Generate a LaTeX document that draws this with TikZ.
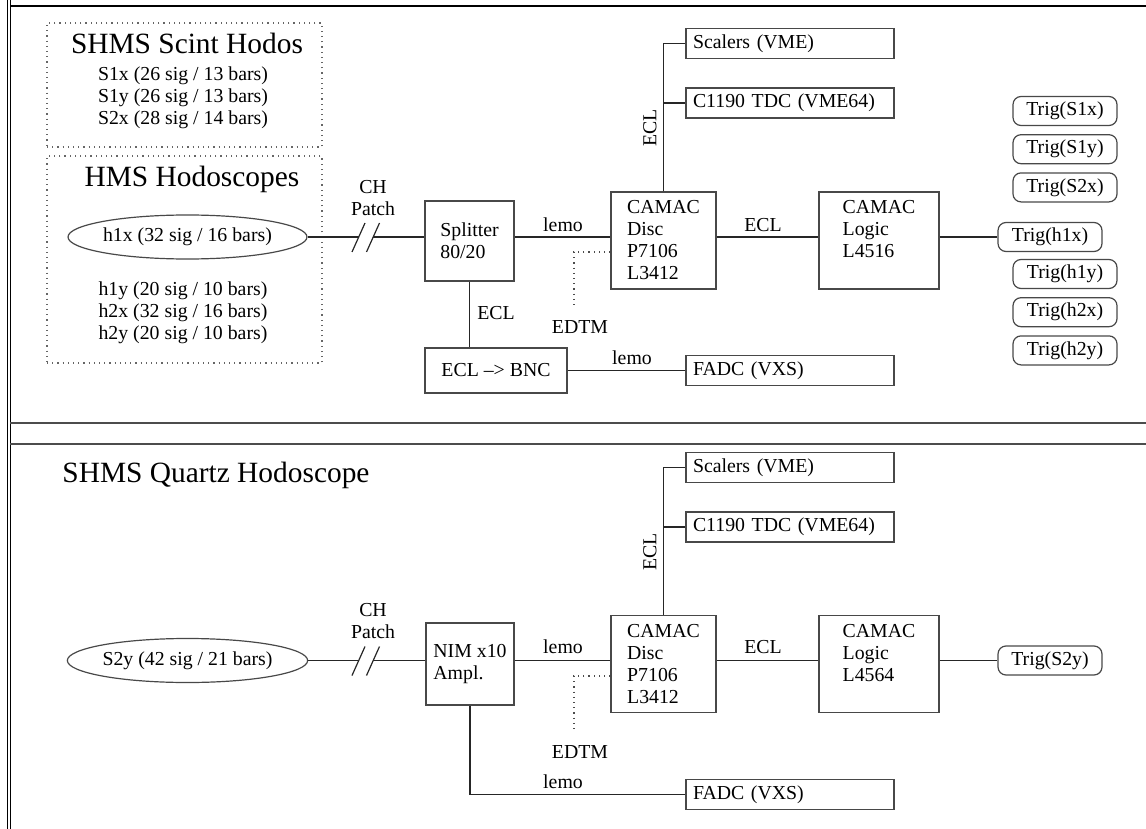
\documentclass[tikz,border=0pt]{standalone}
\usepackage{fontspec}
\setmainfont{Liberation Serif}
\usepackage{xcolor}
\usepackage{tikz}
\usetikzlibrary{positioning, shapes.geometric}
\definecolor{edge}{RGB}{72,72,72}
\tikzset{
  wire/.style={draw=black!85, line width=0.6pt},
  dots/.style={draw=black!70, dotted, line width=0.6pt},
  blk/.style={draw=edge, line width=0.6pt, align=left, inner sep=0pt},
  bus/.style={draw=edge, line width=0.6pt, align=left, text width=97pt, inner xsep=3.5pt,
    inner ysep=0pt, minimum height=15pt},
  lab/.style={align=center, inner sep=1pt},
  trg/.style={draw=edge, line width=0.6pt, rounded corners=4pt, minimum width=52pt,
    minimum height=14.5pt, inner sep=0pt},
  oval/.style={draw=edge, line width=0.6pt, ellipse, minimum width=119.5pt,
    minimum height=22pt, inner sep=0pt},
  zone/.style={draw=black!60, dotted, line width=0.6pt, inner sep=0pt, minimum width=137.5pt},
  ttl/.style={font=\fontsize{14.7pt}{17pt}\selectfont, inner sep=0pt}
}

\begin{document}
\begin{tikzpicture}[x=0.5pt, y=-0.5pt, font=\fontsize{9.9pt}{11pt}\selectfont,
  disc/.style={blk, minimum width=52.5pt, minimum height=48.5pt},
  logic/.style={blk, minimum width=60pt, minimum height=48.5pt}]
  \useasboundingbox (0,0) rectangle (1146,829);
  \draw[line width=0.5pt] (7,0) -- (7,829) (10,0) -- (10,829);
  \draw[line width=0.6pt] (10,6) -- (1146,6);
  \draw[line width=0.6pt, draw=black!70] (10,423) -- (1146,423) (10,444) -- (1146,444);

  % upper panel
  \node[zone, minimum height=62pt] (zscint) at (184.5,85) {};
  \node[zone, minimum height=103.5pt] (zhms) at (184.5,259.5) {};
  \node[ttl] (tscint) at (187,43) {SHMS Scint Hodos};
  \node[lab] (lscint) at (183,98) {S1x (26 sig / 13 bars)\\S1y (26 sig / 13 bars)\\S2x (28 sig / 14 bars)};
  \node[ttl] (thms) at (192,179) {HMS Hodoscopes};
  \node[oval] (h1x) at (187.5,237) {h1x (32 sig / 16 bars)};
  \node[lab] (lhms) at (183,313) {h1y (20 sig / 10 bars)\\h2x (32 sig / 16 bars)\\h2y (20 sig / 10 bars)};
  \node[lab] (patcha) at (373,198) {CH\\Patch};
  \coordinate (cut1) at (358.5,237);
  \coordinate (cut2) at (373,237);
  \node[blk, minimum width=44.5pt, minimum height=40pt] (split) at (469.5,241) {Splitter\\80/20};
  \node[disc] (disca) at (663.5,240.5) {CAMAC\\Disc\\P7106\\L3412};
  \node[logic] (logica) at (879,240.5) {CAMAC\\Logic\\L4516\\\phantom{L4516}};
  \node[trg] (th1x) at (1050,237) {Trig(h1x)};
  \node[trg] (ts1x) at (1065,111) {Trig(S1x)};
  \node[trg, below=4pt of ts1x] (ts1y) {Trig(S1y)};
  \node[trg, below=4pt of ts1y] (ts2x) {Trig(S2x)};
  \node[trg] (th1y) at (1065,274) {Trig(h1y)};
  \node[trg, below=4pt of th1y] (th2x) {Trig(h2x)};
  \node[trg, below=4pt of th2x] (th2y) {Trig(h2y)};
  \node[bus] (scala) at (790,43.5) {Scalers (VME)};
  \node[bus] (tdca) at (790,103) {C1190 TDC (VME64)};
  \node[blk, align=center, minimum width=71pt, minimum height=22.5pt] (bnc) at (496,370.5) {ECL --> BNC};
  \node[bus] (fadca) at (790,370.5) {FADC (VXS)};
  \coordinate (edtmA) at (574,252);
  \coordinate (edtmB) at (574,308);
  \node[lab] (edtma) at (580,327) {EDTM};
  \node[lab] (lemoa) at (563,225) {lemo};
  \node[lab] (ecla) at (763,225) {ECL};
  \node[lab, rotate=90] (eclb) at (650,128) {ECL};
  \node[lab] (eclc) at (496,313) {ECL};
  \node[lab] (lemob) at (632,358) {lemo};

  \draw[wire] (h1x.east) -- (cut1);
  \draw[wire] (cut2) -- (cut2 -| split.west);
  \draw[wire] ([shift={(-6.5,15)}]cut1) -- ([shift={(6.5,-14)}]cut1);
  \draw[wire] ([shift={(-6.5,15)}]cut2) -- ([shift={(6.5,-14)}]cut2);
  \draw[wire] (split.east |- h1x) -- (disca.west |- h1x);
  \draw[wire] (disca.east |- h1x) -- (logica.west |- h1x);
  \draw[wire] (logica.east |- th1x) -- (th1x);
  \draw[wire] (disca.north) |- (scala.west);
  \draw[wire] (disca.north) |- (tdca.west);
  \draw[wire] (split.south) -- (split.south |- bnc.north);
  \draw[wire] (bnc) -- (fadca);
  \draw[dots] (disca.west |- edtmA) -- (edtmA) -- (edtmB);

  % lower panel
  \node[ttl] (tquartz) at (216,475) {SHMS Quartz Hodoscope};
  \node[oval] (s2y) at (187.5,660.5) {S2y (42 sig / 21 bars)};
  \node[lab] (patchb) at (373,621) {CH\\Patch};
  \coordinate (cut3) at (358.5,660.5);
  \coordinate (cut4) at (373,660.5);
  \node[blk, minimum width=44pt, minimum height=41pt] (nim) at (470,664) {NIM x10\\Ampl.};
  \node[disc] (discb) at (663.5,664) {CAMAC\\Disc\\P7106\\L3412};
  \node[logic] (logicb) at (879,664) {CAMAC\\Logic\\L4564\\\phantom{L4564}};
  \node[trg] (ts2y) at (1050,660.5) {Trig(S2y)};
  \node[bus] (scalb) at (790,467.5) {Scalers (VME)};
  \node[bus] (tdcb) at (790,527) {C1190 TDC (VME64)};
  \node[bus] (fadcb) at (790,794.5) {FADC (VXS)};
  \coordinate (edtmC) at (574,676);
  \coordinate (edtmD) at (574,733);
  \node[lab] (edtmb) at (580,752) {EDTM};
  \node[lab] (lemoc) at (563,647) {lemo};
  \node[lab] (ecld) at (763,647) {ECL};
  \node[lab, rotate=90] (ecle) at (650,552) {ECL};
  \node[lab] (lemod) at (563,782) {lemo};

  \draw[wire] (s2y.east) -- (cut3);
  \draw[wire] (cut4) -- (cut4 -| nim.west);
  \draw[wire] ([shift={(-6.5,15)}]cut3) -- ([shift={(6.5,-14)}]cut3);
  \draw[wire] ([shift={(-6.5,15)}]cut4) -- ([shift={(6.5,-14)}]cut4);
  \draw[wire] (nim.east |- s2y) -- (discb.west |- s2y);
  \draw[wire] (discb.east |- s2y) -- (logicb.west |- s2y);
  \draw[wire] (logicb.east |- ts2y) -- (ts2y);
  \draw[wire] (discb.north) |- (scalb.west);
  \draw[wire] (discb.north) |- (tdcb.west);
  \draw[wire] (nim.south) |- (fadcb.west);
  \draw[dots] (discb.west |- edtmC) -- (edtmC) -- (edtmD);
\end{tikzpicture}
\end{document}
